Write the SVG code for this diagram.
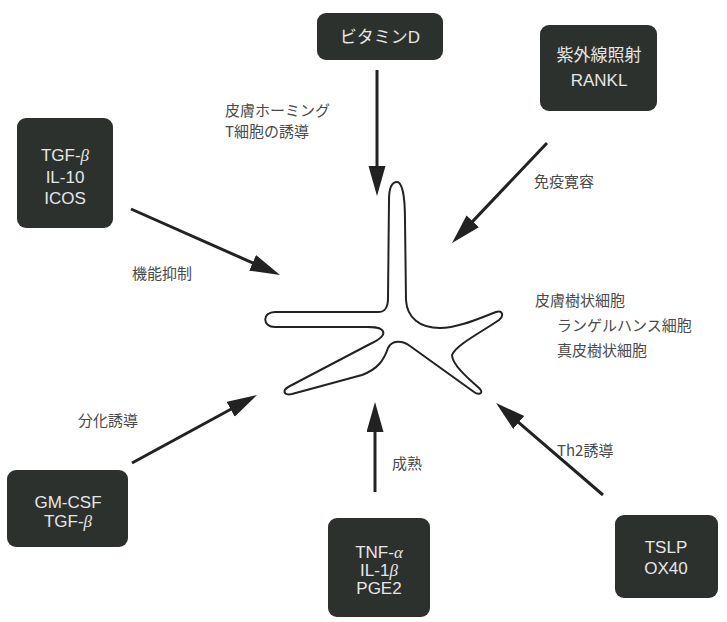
<svg xmlns="http://www.w3.org/2000/svg" width="727" height="622" viewBox="0 0 727 622">
  <style>
    .box { fill: #2d312e; }
    .bt { fill: #e6e6e6; font-family: "Liberation Sans", "Noto Sans CJK JP", sans-serif; font-size: 17px; text-anchor: middle; }
    .lb { fill: #4a4a4a; font-family: "Noto Sans CJK JP", "Liberation Sans", sans-serif; font-size: 15px; }
    .arr { stroke: #222; stroke-width: 3; fill: none; marker-end: url(#head); }
    .it { font-style: italic; font-family: "Liberation Serif", serif; }
  </style>
  <defs>
    <marker id="head" markerUnits="userSpaceOnUse" markerWidth="32" markerHeight="18" refX="8" refY="8.5" orient="auto" viewBox="0 0 32 18">
      <path d="M0,0 L30,8.5 L0,17 Z" fill="#222"/>
    </marker>
  </defs>
  <rect width="727" height="622" fill="#ffffff"/>

  <!-- dendritic cell outline -->
  <g id="cell">
    <path fill="none" stroke="#222" stroke-width="2" d="M397 182 C402 182 405 195 405 220 L406 300 C407 318 420 328 440 328 C458 328 480 318 496 312 C503 310 504 316 499 320 C480 333 456 345 452 355 C452 365 470 380 480 389 C484 394 478 395 474 392 L410 346 C402 340 392 340 388 348 C384 360 378 369 362 375 L292 394 C283 396 282 390 290 386 L370 344 C381 339 386 334 382 330 C378 326 370 327 360 327 L275 327 C262 327 262 312 275 312 L378 312 C385 312 388 308 388 298 L389 200 C389 188 392 182 397 182 Z"/>
  </g>
  <g id="cell-label">
    <text class="lb" x="535" y="306">皮膚樹状細胞</text>
    <text class="lb" x="557" y="331">ランゲルハンス細胞</text>
    <text class="lb" x="557" y="356">真皮樹状細胞</text>
  </g>

  <!-- source nodes -->
  <g id="vitd">
    <rect class="box" x="317" y="13" width="126" height="47" rx="9"/>
    <text class="bt" x="380" y="43">ビタミンD</text>
  </g>
  <g id="uv">
    <rect class="box" x="540" y="25" width="117" height="86" rx="9"/>
    <text class="bt" x="599" y="61">紫外線照射</text>
    <text class="bt" x="599" y="86">RANKL</text>
  </g>
  <g id="tgf">
    <rect class="box" x="17" y="118" width="96" height="110" rx="9"/>
    <text class="bt" x="65" y="161">TGF-<tspan class="it">β</tspan></text>
    <text class="bt" x="65" y="183">IL-10</text>
    <text class="bt" x="65" y="204">ICOS</text>
  </g>
  <g id="gmcsf">
    <rect class="box" x="7" y="470" width="121" height="77" rx="9"/>
    <text class="bt" x="68" y="508">GM-CSF</text>
    <text class="bt" x="68" y="527">TGF-<tspan class="it">β</tspan></text>
  </g>
  <g id="tnf">
    <rect class="box" x="328" y="518" width="102" height="99" rx="9"/>
    <text class="bt" x="379" y="558">TNF-<tspan class="it">α</tspan></text>
    <text class="bt" x="379" y="576">IL-1<tspan class="it">β</tspan></text>
    <text class="bt" x="379" y="594">PGE2</text>
  </g>
  <g id="tslp">
    <rect class="box" x="615" y="515" width="103" height="83" rx="9"/>
    <text class="bt" x="666" y="553">TSLP</text>
    <text class="bt" x="666" y="574">OX40</text>
  </g>

  <!-- connectors -->
  <g id="connectors">
    <line class="arr" x1="377" y1="70" x2="377" y2="174"/>
    <line class="arr" x1="547" y1="143" x2="467.2" y2="227.1"/>
    <line class="arr" x1="131" y1="209" x2="259.9" y2="266.1"/>
    <line class="arr" x1="132" y1="463" x2="237.7" y2="405.5"/>
    <line class="arr" x1="375" y1="492" x2="375" y2="424"/>
    <line class="arr" x1="603" y1="495" x2="512.7" y2="417.3"/>
  </g>

  <!-- connector labels -->
  <g id="labels">
    <text class="lb" x="225" y="116">皮膚ホーミング</text>
    <text class="lb" x="225" y="137">T細胞の誘導</text>
    <text class="lb" x="534" y="187">免疫寛容</text>
    <text class="lb" x="132" y="279">機能抑制</text>
    <text class="lb" x="78" y="426">分化誘導</text>
    <text class="lb" x="392" y="469">成熟</text>
    <text class="lb" x="557" y="456">Th2誘導</text>
  </g>
</svg>
